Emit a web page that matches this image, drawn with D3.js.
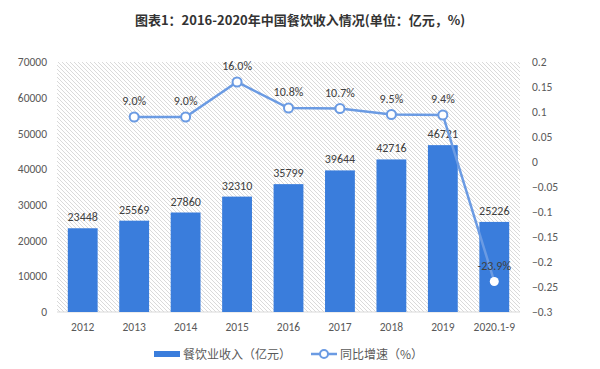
<!DOCTYPE html>
<html><head><meta charset="utf-8">
<script src="https://cdn.jsdelivr.net/npm/d3@7/dist/d3.min.js"></script>
<style>body{margin:0;background:#fff;}svg{display:block;font-family:"Microsoft YaHei","Noto Sans CJK SC",sans-serif;}</style>
</head><body><svg id="c" width="600" height="369"></svg>
<script>
const categories = ["2012","2013","2014","2015","2016","2017","2018","2019","2020.1-9"];
const revenue = [23448,25569,27860,32310,35799,39644,42716,46721,25226];
const growth = [null,0.090,0.090,0.160,0.108,0.107,0.095,0.094,-0.239];
const growthLabels = [null,"9.0%","9.0%","16.0%","10.8%","10.7%","9.5%","9.4%","-23.9%"];
const leftTicks = [0,10000,20000,30000,40000,50000,60000,70000];
const rightTicks = [-0.3,-0.25,-0.2,-0.15,-0.1,-0.05,0,0.05,0.1,0.15,0.2];

const svg = d3.select("#c");
const L=57,R=520,T=62,B=312;
const barColor="#3a7ddc", lineColor="#6b9be3", textColor="#404040";
const numFont="Calibri,Carlito,'Liberation Sans',sans-serif";

const defs = svg.append("defs");
const pat = defs.append("pattern").attr("id","hatch").attr("patternUnits","userSpaceOnUse")
  .attr("width",4).attr("height",4);
pat.append("rect").attr("width",4).attr("height",4).attr("fill","#fff");
pat.append("path").attr("d","M-1,-1 L5,5 M3,-1 L5,1 M-1,3 L1,5").attr("stroke","#d6d6d6").attr("stroke-width",0.9);

svg.append("text").attr("x",300).attr("y",25).attr("text-anchor","middle")
  .attr("font-size",13).attr("font-weight","bold").attr("fill","#333")
  .text("图表1：2016-2020年中国餐饮收入情况(单位：亿元，%)");

svg.append("rect").attr("x",L).attr("y",T).attr("width",R-L).attr("height",B-T).attr("fill","url(#hatch)");

const x = d3.scaleBand().domain(categories).range([L,R]).paddingInner(0.42).paddingOuter(0.21);
const yL = d3.scaleLinear().domain([0,70000]).range([B,T]);
const yR = d3.scaleLinear().domain([-0.3,0.2]).range([B,T]);

svg.append("line").attr("x1",L).attr("x2",R).attr("y1",B).attr("y2",B).attr("stroke","#d9d9d9");

const axL = svg.append("g").attr("transform",`translate(${L},0)`)
  .call(d3.axisLeft(yL).tickValues(leftTicks).tickFormat(d3.format("d")).tickSize(0).tickPadding(10));
axL.select(".domain").remove();
axL.selectAll("text").attr("font-size",11.5).attr("fill","#595959").attr("font-family",numFont);

const axR = svg.append("g").attr("transform",`translate(${R},0)`)
  .call(d3.axisRight(yR).tickValues(rightTicks).tickFormat(d=>d3.format("")(+d.toFixed(2))).tickSize(0).tickPadding(12));
axR.select(".domain").remove();
axR.selectAll("text").attr("font-size",11.5).attr("fill","#595959").attr("font-family",numFont);

const axB = svg.append("g").attr("transform",`translate(0,${B})`)
  .call(d3.axisBottom(x).tickSize(0).tickPadding(11));
axB.select(".domain").remove();
axB.selectAll("text").attr("font-size",11.5).attr("fill","#595959").attr("font-family",numFont);

svg.selectAll(".bar").data(categories).enter().append("rect")
  .attr("x",d=>x(d)).attr("width",x.bandwidth())
  .attr("y",(d,i)=>yL(revenue[i])).attr("height",(d,i)=>B-yL(revenue[i])).attr("fill",barColor);

svg.selectAll(".bl").data(categories).enter().append("text")
  .attr("x",d=>x(d)+x.bandwidth()/2).attr("y",(d,i)=>yL(revenue[i])-7)
  .attr("text-anchor","middle").attr("font-size",12).attr("fill",textColor)
  .attr("font-family",numFont)
  .text((d,i)=>revenue[i]);

const pts = categories.map((c,i)=>({c,v:growth[i],l:growthLabels[i]})).filter(p=>p.v!==null);
const line = d3.line().x(p=>x(p.c)+x.bandwidth()/2).y(p=>yR(p.v));
svg.append("path").datum(pts).attr("d",line).attr("fill","none").attr("stroke",lineColor).attr("stroke-width",2.5);
svg.selectAll(".pt").data(pts).enter().append("circle")
  .attr("cx",p=>x(p.c)+x.bandwidth()/2).attr("cy",p=>yR(p.v)).attr("r",4.5)
  .attr("fill","#fff").attr("stroke",(p,i)=>i===pts.length-1?"none":lineColor).attr("stroke-width",2);
svg.selectAll(".pl").data(pts).enter().append("text")
  .attr("x",p=>x(p.c)+x.bandwidth()/2).attr("y",p=>yR(p.v)-12)
  .attr("text-anchor","middle").attr("font-size",12).attr("fill",textColor)
  .attr("font-family",numFont)
  .text(p=>p.l);

// legend
const lg = svg.append("g");
lg.append("rect").attr("x",154).attr("y",351).attr("width",26).attr("height",6).attr("fill",barColor);
lg.append("text").attr("x",183).attr("y",359).attr("font-size",12).attr("fill","#595959").text("餐饮业收入（亿元）");
lg.append("line").attr("x1",311).attr("x2",337).attr("y1",354).attr("y2",354).attr("stroke",lineColor).attr("stroke-width",2.5);
lg.append("circle").attr("cx",324).attr("cy",354).attr("r",4).attr("fill","#fff").attr("stroke",lineColor).attr("stroke-width",2);
lg.append("text").attr("x",340).attr("y",359).attr("font-size",12).attr("fill","#595959").text("同比增速（%）");
</script></body></html>
